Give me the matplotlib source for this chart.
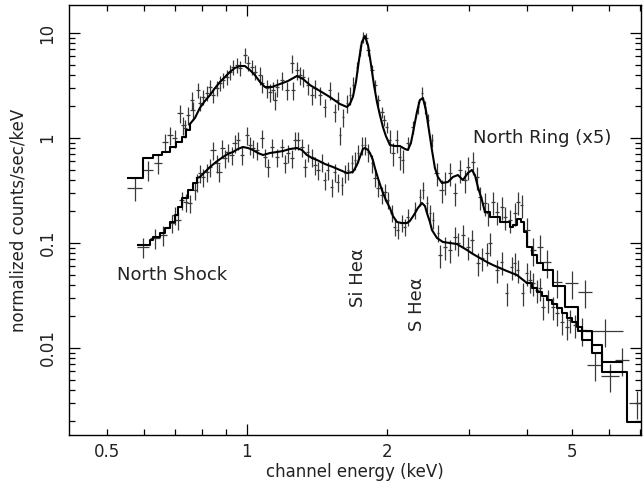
import matplotlib
matplotlib.use("Agg")
import matplotlib.pyplot as plt
import numpy as np
from matplotlib.ticker import FixedLocator, FuncFormatter, LogLocator, NullFormatter

# model curves (keV, normalized counts/sec/keV)
ring_model_e = [0.555, 0.597, 0.628, 0.656, 0.683, 0.704, 0.725, 0.739, 0.754, 0.773,
                0.792, 0.812, 0.833, 0.854, 0.875, 0.897, 0.919, 0.942, 0.966, 0.990,
                1.015, 1.040, 1.067, 1.093, 1.132, 1.178, 1.225, 1.281, 1.320, 1.366,
                1.400, 1.436, 1.508, 1.585, 1.641, 1.665, 1.690, 1.716, 1.742, 1.767,
                1.794, 1.821, 1.848, 1.876, 1.904, 1.932, 1.961, 1.990, 2.030, 2.081,
                2.133, 2.187, 2.219, 2.253, 2.286, 2.321, 2.355, 2.391, 2.426, 2.463,
                2.500, 2.537, 2.575, 2.627, 2.706, 2.773, 2.843, 2.914, 2.987, 3.047,
                3.093, 3.139, 3.202, 3.250, 3.331, 3.499, 3.677, 3.733, 3.807, 3.883,
                3.942, 4.001, 4.102, 4.205, 4.332, 4.551, 4.830, 5.150, 5.521, 5.800,
                6.405]
ring_model_f = [0.416, 0.645, 0.689, 0.736, 0.821, 0.916, 1.022, 1.192, 1.359, 1.551,
                1.931, 2.251, 2.568, 2.994, 3.415, 3.811, 4.252, 4.642, 4.850, 4.850,
                4.442, 3.981, 3.415, 3.060, 3.060, 3.268, 3.490, 3.895, 3.647, 3.197,
                2.994, 2.803, 2.458, 2.108, 1.973, 2.108, 2.458, 3.415, 5.534, 8.208,
                9.363, 7.686, 5.068, 3.197, 2.203, 1.656, 1.273, 1.045, 0.858, 0.839,
                0.839, 0.786, 0.769, 0.896, 1.245, 1.769, 2.301, 2.404, 1.848, 1.192,
                0.769, 0.518, 0.425, 0.373, 0.381, 0.425, 0.444, 0.398, 0.464, 0.496,
                0.444, 0.341, 0.257, 0.197, 0.177, 0.158, 0.142, 0.150, 0.170, 0.160,
                0.127, 0.0916, 0.0769, 0.0645, 0.0553, 0.0390, 0.0246, 0.0145, 0.0107, 0.00736,
                0.00736]

shock_model_e = [0.583, 0.6185, 0.628, 0.650, 0.666, 0.683, 0.700, 0.711, 0.725, 0.747,
                 0.765, 0.781, 0.792, 0.812, 0.833, 0.858, 0.888, 0.910, 0.933, 0.956,
                 0.980, 1.005, 1.030, 1.056, 1.083, 1.121, 1.160, 1.195, 1.237, 1.281,
                 1.313, 1.346, 1.380, 1.415, 1.472, 1.531, 1.585, 1.641, 1.690, 1.724,
                 1.750, 1.776, 1.794, 1.821, 1.839, 1.866, 1.885, 1.913, 1.951, 1.990,
                 2.030, 2.061, 2.102, 2.154, 2.208, 2.241, 2.286, 2.332, 2.379, 2.415,
                 2.439, 2.475, 2.500, 2.563, 2.640, 2.733, 2.829, 2.900, 2.973, 3.062,
                 3.170, 3.282, 3.381, 3.499, 3.623, 3.807, 4.001, 4.102, 4.205, 4.310,
                 4.418, 4.529, 4.642, 4.758, 4.877, 4.999, 5.124, 5.253, 5.521, 5.800,
                 6.566, 7.107]
shock_model_f = [0.0957, 0.1068, 0.1141, 0.1245, 0.1389, 0.1585, 0.1848, 0.2202, 0.2683, 0.3197,
                 0.3728, 0.4159, 0.4251, 0.4745, 0.5296, 0.5907, 0.6592, 0.7041, 0.7356, 0.7855,
                 0.8209, 0.8031, 0.7689, 0.7197, 0.6888, 0.7197, 0.7356, 0.7518, 0.7855, 0.8031,
                 0.7689, 0.6888, 0.6449, 0.6173, 0.5654, 0.5296, 0.4956, 0.4642, 0.4745, 0.5532,
                 0.6592, 0.7855, 0.8031, 0.7689, 0.7197, 0.6173, 0.5179, 0.4159, 0.3197, 0.2567,
                 0.2154, 0.1807, 0.1585, 0.1550, 0.1550, 0.1620, 0.1848, 0.2154, 0.2404, 0.2250,
                 0.1931, 0.1585, 0.1330, 0.1116, 0.1022, 0.1000, 0.0978, 0.0916, 0.0858, 0.0786,
                 0.0720, 0.0659, 0.0617, 0.0578, 0.0541, 0.0496, 0.0416, 0.0373, 0.0341, 0.0313,
                 0.0287, 0.0262, 0.0240, 0.0215, 0.0193, 0.0177, 0.0158, 0.0119, 0.00896, 0.00591,
                 0.00197, 0.00197]

# North Ring (x5) data points
ring_e = [0.574, 0.612, 0.644, 0.666, 0.683, 0.700, 0.718, 0.729, 0.736, 0.747,
          0.762, 0.765, 0.785, 0.792, 0.804, 0.820, 0.833, 0.845, 0.862, 0.875,
          0.888, 0.906, 0.919, 0.933, 0.952, 0.966, 0.990, 1.005, 1.025, 1.040,
          1.067, 1.077, 1.104, 1.121, 1.137, 1.149, 1.160, 1.189, 1.219, 1.250,
          1.256, 1.281, 1.300, 1.320, 1.352, 1.380, 1.401, 1.436, 1.472, 1.508,
          1.546, 1.569, 1.585, 1.609, 1.641, 1.665, 1.690, 1.724, 1.750, 1.776,
          1.803, 1.821, 1.857, 1.885, 1.913, 1.951, 1.971, 2.000, 2.030, 2.061,
          2.102, 2.133, 2.165, 2.219, 2.275, 2.332, 2.379, 2.414, 2.450, 2.500,
          2.562, 2.626, 2.666, 2.733, 2.801, 2.872, 2.943, 2.988, 3.063, 3.124,
          3.171, 3.250, 3.299, 3.382, 3.449, 3.534, 3.587, 3.677, 3.769, 3.826,
          3.902, 4.001, 4.121, 4.267, 4.418, 4.642, 5.000, 5.332, 5.888, 6.405]
ring_f = [0.334, 0.496, 0.578, 0.916, 1.068, 1.000, 1.730, 1.330, 1.245, 1.656,
          2.301, 1.848, 2.866, 2.154, 2.458, 2.683, 3.060, 2.568, 2.994, 3.341,
          3.567, 3.811, 4.252, 4.745, 4.958, 4.642, 6.173, 5.179, 4.745, 4.252,
          3.981, 3.341, 2.994, 2.743, 2.866, 2.301, 3.060, 3.567, 2.866, 5.179,
          2.866, 4.442, 3.981, 3.811, 3.197, 2.568, 2.994, 2.568, 1.973, 2.866,
          1.769, 2.301, 1.068, 1.585, 2.154, 2.568, 3.197, 4.745, 6.888, 9.161,
          8.963, 6.888, 4.442, 3.197, 2.301, 1.769, 1.484, 1.273, 0.957, 0.720,
          0.957, 0.659, 0.617, 0.896, 1.273, 1.973, 2.683, 1.973, 1.484, 0.957,
          0.464, 0.320, 0.381, 0.464, 0.299, 0.496, 0.398, 0.530, 0.591, 0.425,
          0.274, 0.240, 0.193, 0.246, 0.197, 0.220, 0.177, 0.166, 0.193, 0.246,
          0.230, 0.133, 0.0858, 0.0916, 0.0659, 0.0425, 0.0416, 0.0341, 0.0145, 0.00769]
ring_xerr = ([0.021, 0.015, 0.013] + [0.009] * 9 + [0.009] * 18 + [0.011] * 30
             + [0.016] * 20 + [0.032] * 21 + [0.06] * 3
             + [0.088, 0.115, 0.16, 0.185, 0.55, 0.22])
ring_rel = ([0.25, 0.22, 0.22] + [0.2] * 9 + [0.16] * 18 + [0.2] * 27 + [0.12] * 11
            + [0.25] * 5 + [0.15] * 7 + [0.25] * 21 + [0.3] * 9)

# North Shock data points
shock_e = [0.597, 0.634, 0.660, 0.690, 0.700, 0.711, 0.725, 0.739, 0.754, 0.773,
           0.781, 0.792, 0.804, 0.820, 0.833, 0.845, 0.862, 0.871, 0.884, 0.897,
           0.910, 0.928, 0.942, 0.956, 0.976, 1.000, 1.015, 1.030, 1.051, 1.077,
           1.093, 1.110, 1.132, 1.160, 1.189, 1.207, 1.225, 1.250, 1.268, 1.287,
           1.313, 1.333, 1.352, 1.380, 1.401, 1.422, 1.450, 1.472, 1.494, 1.523,
           1.546, 1.569, 1.601, 1.625, 1.649, 1.682, 1.707, 1.733, 1.767, 1.794,
           1.821, 1.857, 1.885, 1.913, 1.951, 1.981, 2.010, 2.050, 2.081, 2.112,
           2.154, 2.187, 2.219, 2.298, 2.355, 2.391, 2.438, 2.475, 2.512, 2.575,
           2.601, 2.666, 2.733, 2.801, 2.843, 2.915, 2.988, 3.048, 3.140, 3.202,
           3.283, 3.332, 3.449, 3.534, 3.622, 3.713, 3.769, 3.826, 3.921, 4.001,
           4.060, 4.121, 4.204, 4.267, 4.331, 4.440, 4.551, 4.642, 4.759, 4.879,
           4.952, 5.074, 5.253, 5.603, 6.034, 6.898]
shock_f = [0.0916, 0.1116, 0.1192, 0.155, 0.185, 0.166, 0.257, 0.246, 0.240, 0.320,
           0.381, 0.464, 0.425, 0.475, 0.530, 0.769, 0.578, 0.475, 0.803, 0.645,
           0.736, 0.689, 0.896, 0.957, 0.689, 1.068, 0.858, 0.803, 0.769, 1.000,
           0.659, 0.530, 0.821, 0.659, 0.821, 0.578, 0.720, 0.645, 0.957, 0.957,
           0.821, 0.530, 0.736, 0.659, 0.553, 0.496, 0.591, 0.398, 0.496, 0.341,
           0.475, 0.381, 0.357, 0.464, 0.496, 0.578, 0.617, 0.720, 0.858, 0.858,
           0.736, 0.578, 0.416, 0.334, 0.287, 0.306, 0.257, 0.193, 0.142, 0.133,
           0.155, 0.142, 0.177, 0.206, 0.274, 0.320, 0.240, 0.193, 0.166, 0.1245,
           0.0769, 0.0916, 0.0858, 0.1141, 0.100, 0.1192, 0.0916, 0.1068, 0.0645, 0.0720,
           0.0803, 0.100, 0.0553, 0.0659, 0.0334, 0.0591, 0.0645, 0.0553, 0.0334, 0.0518,
           0.0444, 0.0416, 0.0357, 0.0373, 0.0246, 0.0287, 0.0246, 0.0215, 0.0177, 0.0158,
           0.0185, 0.0166, 0.0148, 0.00689, 0.00541, 0.00299]
shock_xerr = ([0.018, 0.016, 0.013] + [0.009] * 12 + [0.011] * 47 + [0.016] * 18
              + [0.028] * 20 + [0.04] * 12 + [0.13, 0.21, 0.27, 0.25])
shock_rel = [0.22] * 3 + [0.2] * 59 + [0.18] * 18 + [0.25] * 32 + [0.3] * 4

TEXT = "#222222"


def draw_model(ax, e, f, lo, hi):
    e = np.asarray(e)
    f = np.asarray(f)
    a = np.searchsorted(e, lo)
    b = np.searchsorted(e, hi)
    kw = dict(color="black", lw=1.5, zorder=3)
    ax.plot(e[:a + 1], f[:a + 1], drawstyle="steps-post", **kw)
    ax.plot(e[a:b + 1], f[a:b + 1], **kw)
    ax.plot(e[b:], f[b:], drawstyle="steps-post", **kw)


def draw_data(ax, e, f, xerr, rel):
    f = np.asarray(f)
    ax.errorbar(e, f, xerr=xerr, yerr=f * np.asarray(rel), fmt="none",
                ecolor="#3a3a3a", elinewidth=0.9, capsize=0, zorder=2)


def main():
    fig = plt.figure(figsize=(6.43, 4.86), dpi=100)
    ax = fig.add_axes([69 / 643, 1 - 435 / 486, 572 / 643, 430 / 486])
    ax.set_xscale("log")
    ax.set_yscale("log")

    draw_data(ax, ring_e, ring_f, ring_xerr, ring_rel)
    draw_data(ax, shock_e, shock_f, shock_xerr, shock_rel)
    draw_model(ax, ring_model_e, ring_model_f, 0.754, 3.25)
    draw_model(ax, shock_model_e, shock_model_f, 0.781, 4.0)

    ax.set_xlim(0.4143, 7.04)
    ax.set_ylim(0.001484, 18.48)

    ax.xaxis.set_major_locator(FixedLocator([1]))
    ax.xaxis.set_minor_locator(FixedLocator([0.5, 0.6, 0.7, 0.8, 0.9, 2, 3, 4, 5, 6, 7]))
    ax.xaxis.set_major_formatter(FuncFormatter(lambda v, _: f"{v:g}"))
    ax.xaxis.set_minor_formatter(
        FuncFormatter(lambda v, _: f"{v:g}" if round(v, 2) in (0.5, 2.0, 5.0) else ""))
    ax.yaxis.set_major_locator(LogLocator(base=10, numticks=10))
    ax.yaxis.set_minor_locator(LogLocator(base=10, subs=np.arange(2, 10), numticks=20))
    ax.yaxis.set_major_formatter(FuncFormatter(lambda v, _: f"{v:g}"))
    ax.yaxis.set_minor_formatter(NullFormatter())

    ax.tick_params(which="both", direction="in", top=True, right=True,
                   width=0.9, labelsize=12, labelcolor=TEXT)
    ax.tick_params(which="major", length=8)
    ax.tick_params(which="minor", length=4)
    ax.tick_params(axis="x", which="both", pad=6)
    ax.tick_params(axis="y", which="both", pad=9)
    plt.setp(ax.get_yticklabels(), rotation=90, va="center")
    for s in ax.spines.values():
        s.set_linewidth(1.0)

    ax.set_xlabel("channel energy (keV)", fontsize=12, color=TEXT, labelpad=1)
    ax.set_ylabel("normalized counts/sec/keV", fontsize=12, color=TEXT, labelpad=8)

    ax.text(3.06, 1.0, "North Ring (x5)", fontsize=13, color=TEXT, ha="left", va="center")
    ax.text(0.525, 0.0496, "North Shock", fontsize=13, color=TEXT, ha="left", va="center")
    ax.text(1.733, 0.0464, "Si He\u03b1", fontsize=13, color=TEXT, rotation=90,
            ha="center", va="center")
    ax.text(2.32, 0.0262, "S He\u03b1", fontsize=13, color=TEXT, rotation=90,
            ha="center", va="center")

    fig.savefig("out.png", dpi=100)
    plt.close(fig)


if __name__ == "__main__":
    main()
